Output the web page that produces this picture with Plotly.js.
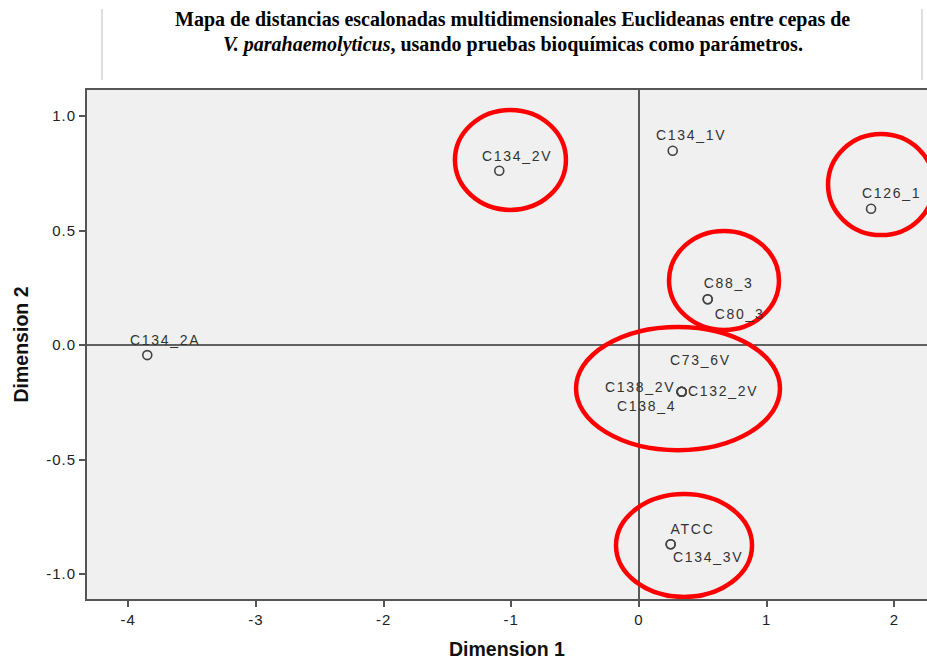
<!DOCTYPE html>
<html>
<head>
<meta charset="utf-8">
<script src="https://cdn.plot.ly/plotly-3.0.1.min.js"></script>
<style>
html,body{margin:0;padding:0;background:#fff;}
#chart{width:927px;height:660px;}
.annotation-text.pt-label{letter-spacing:1.7px;}
.xtick text,.ytick text{letter-spacing:1px;}
</style>
</head>
<body>
<div id="chart"></div>
<script>
// Strain labels and MDS coordinates (coincident strains share coordinates)
const strains = ["C134_2A","C134_2V","C134_1V","C126_1","C88_3","C80_3","C73_6V","C138_2V","C132_2V","C138_4","ATCC","C134_3V"];
const dim1    = [-3.85, -1.094, 0.264, 1.817, 0.538, 0.538, 0.334, 0.334, 0.334, 0.334, 0.248, 0.248];
const dim2    = [-0.044, 0.761, 0.848, 0.595, 0.200, 0.200, -0.204, -0.204, -0.204, -0.204, -0.870, -0.870];

// Label offsets in pixels relative to the point (style only)
const labelDx = [-13, -13, -13, -6, -2, 9, -9, -10, 10, -9, 1, 6];
const labelDy = [15, 15, 16, 16, 16, -15, 32, 5, 1, -14, 15, -13];
const labelAnchor = ["left","left","left","left","left","left","left","right","left","right","left","left"];

// Highlight ellipses (data-coordinate bounding boxes)
const ellX0 = [-1.441, 1.480, 0.235, -0.493, -0.180];
const ellX1 = [-0.572, 2.310, 1.096, 1.104, 0.885];
const ellY0 = [0.590, 0.480, 0.066, -0.459, -1.100];
const ellY1 = [1.026, 0.921, 0.498, 0.079, -0.651];

const xTicks = [-4,-3,-2,-1,0,1,2];
const xTickText = ["-4","-3","-2","-1","0","1","2"];
const yTicks = [-1.0,-0.5,0.0,0.5,1.0];
const yTickText = ["-1.0","-0.5","0.0","0.5","1.0"];

const titleLine1 = '<b>Mapa de distancias escalonadas multidimensionales Euclideanas entre cepas de</b>';
const titleLine2 = '<b><i>V. parahaemolyticus</i>, usando pruebas bioquímicas como parámetros.</b>';

const trace = {
  x: dim1, y: dim2, type: 'scatter', mode: 'markers',
  marker: {symbol: 'circle-open', size: 9, color: '#444', line: {width: 1.6, color: '#444'}},
  hoverinfo: 'skip', showlegend: false, cliponaxis: false
};

const annotations = strains.map((s, i) => ({
  x: dim1[i], y: dim2[i], xref: 'x', yref: 'y', text: s, showarrow: false,
  xanchor: labelAnchor[i], yanchor: 'middle', xshift: labelDx[i], yshift: labelDy[i],
  font: {family: 'Liberation Sans, Arial, sans-serif', size: 14, color: '#333'}
}));
const titleFont = {family: 'Liberation Serif, Times New Roman, serif', size: 20, color: '#000'};
annotations.push({xref:'paper', yref:'paper', x:(512-87)/840, y:(599-20)/509, xanchor:'center', yanchor:'middle', text:titleLine1, showarrow:false, font:titleFont});
annotations.push({xref:'paper', yref:'paper', x:(513-87)/840, y:(599-44)/509, xanchor:'center', yanchor:'middle', text:titleLine2, showarrow:false, font:titleFont});

const shapes = ellX0.map((v, i) => ({
  type: 'circle', xref: 'x', yref: 'y', x0: v, x1: ellX1[i], y0: ellY0[i], y1: ellY1[i],
  line: {color: '#ff0000', width: 4.5}, layer: 'above'
}));
// zero reference lines
shapes.push({type:'line', xref:'x', yref:'paper', x0:0, x1:0, y0:0, y1:1, line:{color:'#333', width:1.6}, layer:'below'});
shapes.push({type:'line', xref:'paper', yref:'y', x0:0, x1:1, y0:0, y1:0, line:{color:'#333', width:1.6}, layer:'below'});
// title box side lines
shapes.push({type:'line', xref:'paper', yref:'paper', x0:(102-87)/840, x1:(102-87)/840, y0:(599-9)/509, y1:(599-80)/509, line:{color:'#c8c8c8', width:1.2}});
shapes.push({type:'line', xref:'paper', yref:'paper', x0:(922-87)/840, x1:(922-87)/840, y0:(599-9)/509, y1:(599-80)/509, line:{color:'#c8c8c8', width:1.2}});

const tickFont = {family: 'Liberation Sans, Arial, sans-serif', size: 15, color: '#222'};
const axTitleFont = {family: 'Liberation Sans, Arial, sans-serif', size: 19.5, color: '#111'};

const layout = {
  width: 927, height: 660,
  margin: {l: 87, r: 0, t: 90, b: 61, pad: 0},
  paper_bgcolor: '#ffffff', plot_bgcolor: '#f0f0f0',
  xaxis: {
    range: [-4.322, 2.255], tickvals: xTicks, ticktext: xTickText,
    showgrid: false, zeroline: false, showline: true, mirror: true, linecolor: '#555', linewidth: 2,
    ticks: 'outside', ticklen: 6, tickwidth: 2, tickcolor: '#555',
    tickfont: tickFont,
    title: {text: '<b>Dimension 1</b>', font: axTitleFont, standoff: 17},
    automargin: false, fixedrange: true
  },
  yaxis: {
    range: [-1.109, 1.1135], tickvals: yTicks, ticktext: yTickText,
    showgrid: false, zeroline: false, showline: true, mirror: false, linecolor: '#555', linewidth: 2,
    ticks: 'outside', ticklen: 6, tickwidth: 2, tickcolor: '#555',
    tickfont: tickFont,
    title: {text: '<b>Dimension 2</b>', font: axTitleFont, standoff: 12},
    automargin: false, fixedrange: true
  },
  shapes: shapes,
  annotations: annotations,
  showlegend: false
};

Plotly.newPlot('chart', [trace], layout, {displayModeBar: false, staticPlot: true}).then(() => {
  document.querySelectorAll('.annotation-text').forEach((t, i) => {
    if (i < strains.length) t.classList.add('pt-label');
  });
});
</script>
</body>
</html>
